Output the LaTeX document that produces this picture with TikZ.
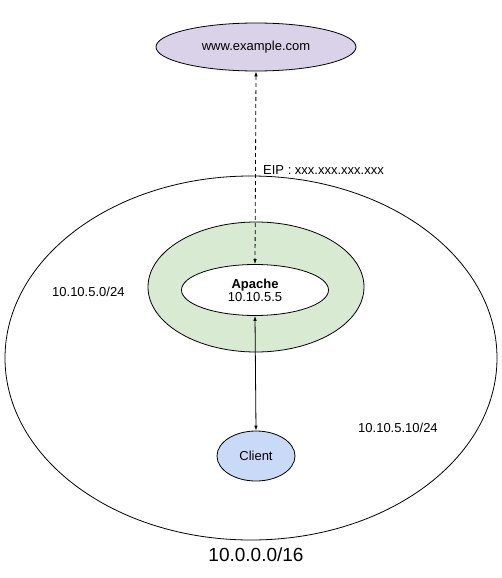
\documentclass[tikz,border=0pt]{standalone}
\usepackage{fontspec}
\setmainfont{Liberation Sans}
\usetikzlibrary{shapes.geometric,arrows.meta}
\definecolor{purp}{HTML}{D9D2E9}
\definecolor{grn}{HTML}{D9EAD3}
\definecolor{blu}{HTML}{C9DAF8}
\begin{document}
\begin{tikzpicture}[x=1pt,y=-1pt,
  oval/.style={ellipse,draw=black,line width=0.8pt,inner sep=0pt,font=\fontsize{13}{15}\selectfont},
  lbl/.style={font=\fontsize{13}{15}\selectfont,inner sep=0pt},
  link/.style={line width=0.8pt,{Latex[length=5pt,width=3.5pt]}-{Latex[length=5pt,width=3.5pt]}}]
\useasboundingbox (0,0) rectangle (502,578);
\node[oval,fill=purp,minimum width=200pt,minimum height=48pt] (www) at (256,47) {www.example.com};
\node[oval,minimum width=492pt,minimum height=364pt] (vpc) at (251,358) {};
\node[oval,fill=grn,minimum width=216pt,minimum height=130pt] (subnet) at (256,287) {};
\node[oval,fill=white,minimum width=147pt,minimum height=51pt,align=center] (apache) at (255,290) {\textbf{Apache}\\[-2pt]10.10.5.5};
\node[oval,fill=blu,minimum width=78pt,minimum height=50pt] (client) at (256,456) {Client};
\draw[link,dashed,dash pattern=on 4pt off 3pt] (www.south) -- (apache.north);
\draw[link] (apache.south) -- (client.north);
\node[lbl,anchor=west] (eip) at (263,170) {EIP : xxx.xxx.xxx.xxx};
\node[lbl,anchor=west] (l1) at (52,292) {10.10.5.0/24};
\node[lbl,anchor=west] (l2) at (358,428) {10.10.5.10/24};
\node[lbl,font=\fontsize{19}{21}\selectfont] (l3) at (256,555) {10.0.0.0/16};
\end{tikzpicture}
\end{document}
